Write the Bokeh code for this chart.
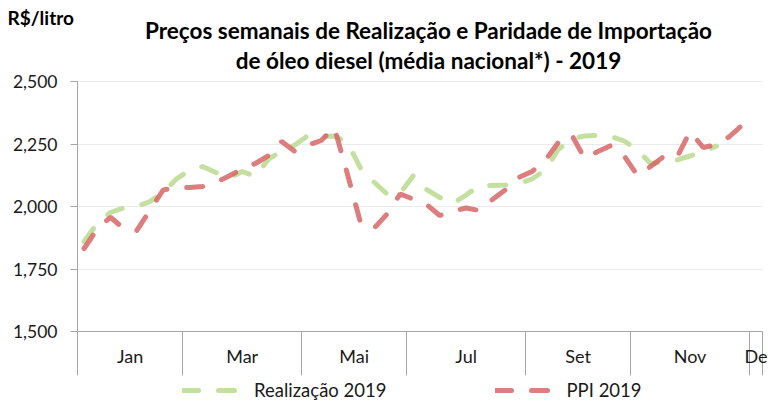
import numpy as np
from bokeh.plotting import figure
from bokeh.models import (FixedTicker, NumeralTickFormatter, Legend, LegendItem, Label,
                          Range1d, ColumnDataSource, CustomJSTickFormatter)
from bokeh.embed import file_html
from bokeh.resources import INLINE

# ---- data -------------------------------------------------------------
month_labels = ["Jan", "Mar", "Mai", "Jul", "Set", "Nov", "De"]
weeks_per_label = [8, 9, 8, 9, 8, 9, 1]
y_ticks = [1500, 1750, 2000, 2250, 2500]

realizacao_2019 = [1860, 1932, 1976, 1994, 2000, 2020, 2056, 2110, 2144, 2160,
                   2136, 2114, 2140, 2120, 2190, 2222, 2246, 2284, 2280, 2282,
                   2256, 2152, 2098, 2050, 2054, 2124, 2068, 2036, 2012, 2046,
                   2084, 2084, 2086, 2092, 2110, 2146, 2228, 2270, 2282, 2284,
                   2280, 2262, 2226, 2172, 2177, 2186, 2202, 2220, 2242]

ppi_2019 = [1832, 1910, 1957, 1912, 1904, 1984, 2066, 2076, 2076, 2080,
            2096, 2122, 2150, 2172, 2204, 2260, 2220, 2246, 2264, 2316,
            2128, 1932, 1912, 1970, 2050, 2029, 2008, 1964, 1982, 1994,
            1984, 2028, 2067, 2116, 2140, 2184, 2256, 2288, 2192, 2220,
            2244, 2202, 2124, 2160, 2200, 2196, 2300, 2236, 2248, 2280,
            2328]

series_names = ["Realização 2019", "PPI 2019"]
title_lines = ["Preços semanais de Realização e Paridade de Importação",
               "de óleo diesel (média nacional*) - 2019"]
unit_label = "R$/litro"

# ---- derived ----------------------------------------------------------
boundaries = [0] + [int(b) for b in np.cumsum(weeks_per_label)]
centers = [(boundaries[i] + boundaries[i + 1]) / 2 for i in range(len(weeks_per_label))]
n_weeks = boundaries[-1]

src_g = ColumnDataSource(dict(x=[i + 0.5 for i in range(len(realizacao_2019))], y=realizacao_2019))
src_r = ColumnDataSource(dict(x=[i + 0.5 for i in range(len(ppi_2019))], y=ppi_2019))

# canvas geometry (pixels): plot area from x=77..762, y=81..331 inside a 770x401 canvas
W, H = 770, 401
PL, PR, PT, PB = 77, 762, 81, 331
ymin, ymax = y_ticks[0], y_ticks[-1]
xpp = n_weeks / (PR - PL)          # weeks per pixel
ypp = (ymax - ymin) / (PB - PT)    # price per pixel
x_range = Range1d(-PL * xpp, (W - PL) * xpp)
y_range = Range1d(ymin - (H - PB) * ypp, ymax + PT * ypp)

FONT = "Lato"
TXT = "#1a1a1a"
AXIS = "#a6a6a6"
GREEN = "#C4E0A0"
RED = "#D65C5C"

p = figure(width=W, height=H, output_backend="svg", toolbar_location=None,
           x_range=x_range, y_range=y_range, title_location=None,
           min_border=0, min_border_left=0, min_border_right=0,
           min_border_top=0, min_border_bottom=0)
p.outline_line_color = None
p.background_fill_color = "white"
p.border_fill_color = "white"

# x axis (fixed at the bottom of the plot area)
xa = p.xaxis[0]
xa.fixed_location = ymin
xa.bounds = (0, n_weeks)
xa.ticker = FixedTicker(ticks=centers, minor_ticks=boundaries)
xa.formatter = CustomJSTickFormatter(args=dict(c=centers, labs=month_labels), code="""
    for (let i = 0; i < c.length; i++) { if (Math.abs(c[i] - tick) < 1e-6) return labs[i]; }
    return "";
""")
xa.major_tick_out = 0
xa.major_tick_in = 0
xa.minor_tick_out = 44
xa.minor_tick_in = 0
xa.minor_tick_line_color = AXIS
xa.axis_line_color = AXIS
xa.major_label_standoff = -31
xa.major_label_text_font = FONT
xa.major_label_text_font_size = "18px"
xa.major_label_text_color = TXT

# y axis (fixed at the left of the plot area)
ya = p.yaxis[0]
ya.fixed_location = 0
ya.bounds = (ymin, ymax)
ya.ticker = FixedTicker(ticks=y_ticks, minor_ticks=[])
ya.formatter = NumeralTickFormatter(format="0,0")
ya.major_tick_out = 7
ya.major_tick_in = 0
ya.minor_tick_out = 0
ya.minor_tick_in = 0
ya.major_tick_line_color = AXIS
ya.axis_line_color = AXIS
ya.major_label_standoff = 13
ya.major_label_text_font = FONT
ya.major_label_text_font_size = "17.5px"
ya.major_label_text_color = TXT

p.xgrid.visible = False
p.ygrid.grid_line_color = "#ebebeb"
p.ygrid.cross_bounds = (0, n_weeks)

g = p.line("x", "y", source=src_g, line_color=GREEN, line_width=5,
           line_dash="16 20", line_cap="round")
r = p.line("x", "y", source=src_r, line_color=RED, line_alpha=0.8, line_width=5,
           line_dash="16 20", line_cap="round")

legend = Legend(items=[LegendItem(label=series_names[0], renderers=[g]),
                       LegendItem(label=series_names[1], renderers=[r])],
                orientation="horizontal", location=(182, 0),
                glyph_width=60, glyph_height=20, label_standoff=12, spacing=108,
                padding=0, margin=0, border_line_color=None, background_fill_alpha=0,
                label_text_font=FONT, label_text_font_size="18.5px", label_text_color=TXT)
p.add_layout(legend, "center")

p.add_layout(Label(x=428, y=H - 30, x_units="screen", y_units="screen",
                   text=title_lines[0],
                   text_align="center", text_baseline="middle", text_font=FONT,
                   text_font_style="bold", text_font_size="22.5px", text_color="#000000"))
p.add_layout(Label(x=428, y=H - 60, x_units="screen", y_units="screen",
                   text=title_lines[1],
                   text_align="center", text_baseline="middle", text_font=FONT,
                   text_font_style="bold", text_font_size="22.5px", text_color="#000000"))
p.add_layout(Label(x=7, y=H - 17, x_units="screen", y_units="screen",
                   text=unit_label, text_align="left", text_baseline="middle",
                   text_font=FONT, text_font_style="bold", text_font_size="19px",
                   text_color="#000000"))

open("out.html", "w").write(file_html(p, INLINE))
